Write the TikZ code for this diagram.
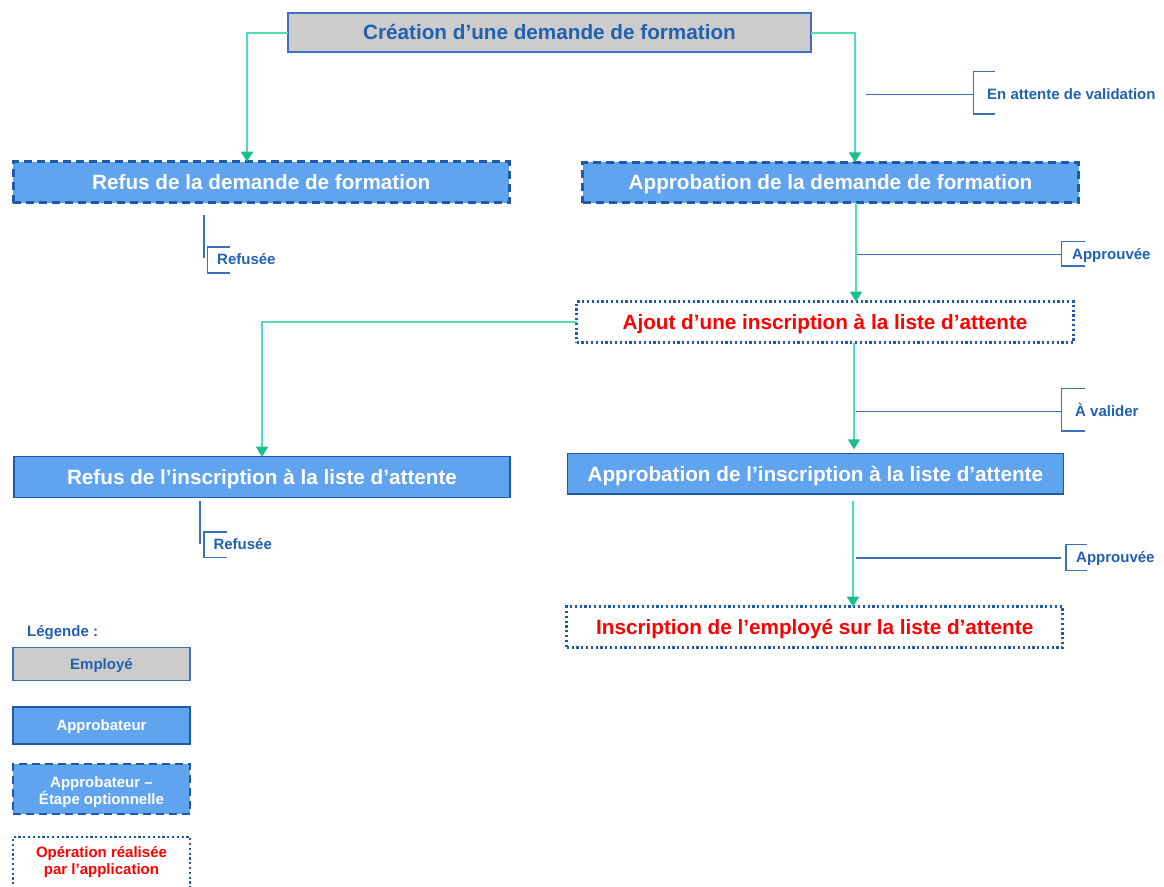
\documentclass[tikz,border=0pt]{standalone}
\usepackage{fontspec}
\setmainfont{Liberation Sans}
\usetikzlibrary{arrows.meta}
\definecolor{tblue}{HTML}{2260B0}
\definecolor{bfill}{HTML}{60A4EF}
\definecolor{bdark}{HTML}{1F5AA8}
\definecolor{gfill}{HTML}{CCCCCC}
\definecolor{bord}{HTML}{3F70BF}
\definecolor{conncol}{HTML}{4EDDB4}
\definecolor{conndark}{HTML}{18C18C}
\definecolor{lblue}{HTML}{3B6FBE}
\definecolor{opred}{HTML}{FF0000}
\begin{document}
\begin{tikzpicture}[x=1pt,y=-1pt,
  base/.style={inner sep=0pt, outer sep=0pt, align=center, font=\fontsize{20.7}{24}\selectfont\bfseries, text height=19pt, text depth=4.2pt},
  empbox/.style={base, fill=gfill, draw=bord, line width=1.3pt, text=tblue},
  appbox/.style={base, fill=bfill, draw=bdark, line width=1.3pt, text=white},
  optbox/.style={appbox, line width=2.6pt, dash pattern=on 8pt off 5pt},
  opbox/.style={base, fill=white, draw=bdark, line width=2.6pt, dash pattern=on 2.2pt off 2.6pt, text=opred},
  small/.style={font=\fontsize{15}{17}\selectfont\bfseries, text height=13.7pt, text depth=3pt},
  lab/.style={small, text=tblue, inner sep=0pt, anchor=west},
  lline/.style={draw=lblue, line width=1.3pt},
  conn/.style={draw=conncol, line width=2pt, -{Triangle[length=10pt,width=12pt,fill=conndark,color=conndark]}}
]
\useasboundingbox (0,0) rectangle (1164,886);

% main nodes
\node[empbox, minimum width=523pt, minimum height=39pt] (cre) at (549.5,32.5) {Création d’une demande de formation};
\node[optbox, minimum width=496pt, minimum height=41pt] (rd) at (261.3,182.2) {Refus de la demande de formation};
\node[optbox, minimum width=496pt, minimum height=40.5pt] (ad) at (830.5,182.5) {Approbation de la demande de formation};
\node[opbox, minimum width=497pt, minimum height=41pt] (aj) at (825,322.2) {Ajout d’une inscription à la liste d’attente};
\node[appbox, minimum width=496pt, minimum height=40.6pt] (ri) at (262,477) {Refus de l’inscription à la liste d’attente};
\node[appbox, minimum width=496pt, minimum height=40.7pt] (ai) at (815.3,473.6) {Approbation de l’inscription à la liste d’attente};
\node[opbox, minimum width=496pt, minimum height=40.6pt] (ie) at (814.7,627) {Inscription de l’employé sur la liste d’attente};

% connectors
\draw[conn] (cre.west) -| ([xshift=-14.3pt]rd.north);
\draw[conn] (cre.east) -| ([xshift=24.5pt]ad.north);
\draw[conn] ([xshift=25.5pt]ad.south) -- ([xshift=25.5pt]ad.south |- aj.north);
\draw[conn] (aj.west) -| (ri.north);
\draw[conn] ([xshift=29pt]aj.south) -- ([xshift=29pt,yshift=4pt]aj.south |- ai.north);
\draw[conn] ([xshift=37.7pt,yshift=-7pt]ai.south) -- ([xshift=37.7pt]ai.south |- ie.north);

% status labels
\node[lab] (att) at (987,94.5) {En attente de validation};
\coordinate (att-s) at (866,94.3);
\draw[lline] (att-s) -- (973.3,94.3);
\draw[lline] (995,71.7) -- (973.3,71.7) -- (973.3,114) -- (995,114);

\node[lab] (app1) at (1072,254.5) {Approuvée};
\coordinate (app1-s) at (857,254.3);
\draw[lline] (app1-s) -- (1061.7,254.3);
\draw[lline] (1085,241.7) -- (1061.7,241.7) -- (1061.7,266) -- (1085,266);

\node[lab] (val) at (1075,411.5) {À valider};
\coordinate (val-s) at (856,411.7);
\draw[lline] (val-s) -- (1061.7,411.7);
\draw[lline] (1085,388.3) -- (1061.7,388.3) -- (1061.7,431) -- (1085,431);

\node[lab] (app2) at (1076,557.5) {Approuvée};
\coordinate (app2-s) at (856,558);
\draw[lline] (app2-s) -- (1061,558);
\draw[lline] (1087,544.5) -- (1066,544.5) -- (1066,570.7) -- (1087,570.7);

\node[lab] (ref1) at (217,259.5) {Refusée};
\draw[lline] (204,215) -- (204,258);
\draw[lline] (230,247) -- (207.7,247) -- (207.7,273) -- (230,273);

\node[lab] (ref2) at (213.3,544.5) {Refusée};
\draw[lline] (200,501) -- (200,544);
\draw[lline] (226.7,532) -- (204,532) -- (204,557.3) -- (226.7,557.3);

% legend
\node[lab] (leg) at (27,631.5) {Légende :};
\node[empbox, small, minimum width=177pt, minimum height=33pt] (l1) at (101.5,664) {Employé};
\node[appbox, small, minimum width=177pt, minimum height=37pt] (l2) at (101.5,725.5) {Approbateur};
\node[optbox, small, text height=33pt, text depth=3pt, minimum width=177pt, minimum height=50pt] (l3) at (101.5,789) {Approbateur –\\Étape optionnelle};
\node[opbox, small, text height=25pt, text depth=3pt, minimum width=177pt, minimum height=52pt] (l4) at (101.5,863) {Opération réalisée\\par l’application};
\end{tikzpicture}
\end{document}
